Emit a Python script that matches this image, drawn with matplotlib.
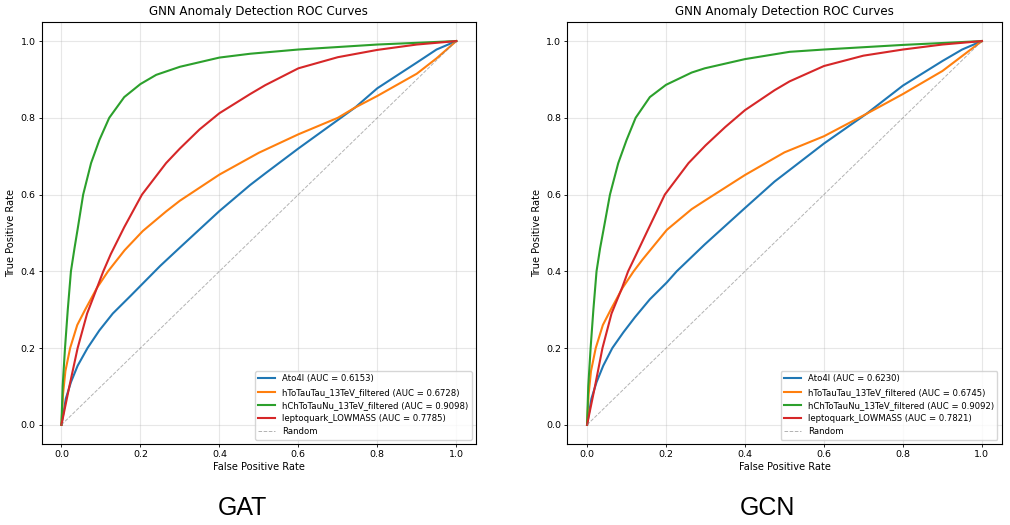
import matplotlib
matplotlib.use("Agg")
import matplotlib.pyplot as plt

# ---- data ----
labels_gat = ["Ato4l (AUC = 0.6153)",
              "hToTauTau_13TeV_filtered (AUC = 0.6728)",
              "hChToTauNu_13TeV_filtered (AUC = 0.9098)",
              "leptoquark_LOWMASS (AUC = 0.7785)"]
labels_gcn = ["Ato4l (AUC = 0.6230)",
              "hToTauTau_13TeV_filtered (AUC = 0.6745)",
              "hChToTauNu_13TeV_filtered (AUC = 0.9092)",
              "leptoquark_LOWMASS (AUC = 0.7821)"]

# GAT
gat_ato4l_fpr = [0, 0.011, 0.024, 0.041, 0.066, 0.096, 0.13, 0.176, 0.2, 0.25, 0.3, 0.4, 0.478, 0.516, 0.6, 0.744, 0.8, 0.9, 0.95, 1.0]
gat_ato4l_tpr = [0, 0.068, 0.111, 0.154, 0.2, 0.246, 0.29, 0.337, 0.362, 0.414, 0.462, 0.557, 0.625, 0.655, 0.72, 0.827, 0.877, 0.944, 0.978, 1.0]
gat_htt_fpr = [0, 0.004, 0.01, 0.022, 0.04, 0.06, 0.09, 0.118, 0.16, 0.206, 0.265, 0.3, 0.4, 0.5, 0.6, 0.7, 0.744, 0.8, 0.9, 0.95, 1.0]
gat_htt_tpr = [0, 0.08, 0.14, 0.2, 0.26, 0.30, 0.357, 0.4, 0.455, 0.505, 0.556, 0.584, 0.652, 0.709, 0.757, 0.80, 0.827, 0.857, 0.915, 0.955, 1.0]
gat_hch_fpr = [0, 0.003, 0.009, 0.016, 0.024, 0.033, 0.041, 0.055, 0.075, 0.096, 0.121, 0.159, 0.2, 0.24, 0.3, 0.4, 0.478, 0.6, 0.8, 1.0]
gat_hch_tpr = [0, 0.1, 0.2, 0.3, 0.4, 0.46, 0.51, 0.6, 0.682, 0.742, 0.8, 0.854, 0.888, 0.912, 0.933, 0.957, 0.967, 0.978, 0.991, 1.0]
gat_lq_fpr = [0, 0.01, 0.02, 0.041, 0.065, 0.09, 0.106, 0.125, 0.159, 0.204, 0.265, 0.3, 0.35, 0.4, 0.478, 0.516, 0.6, 0.7, 0.8, 0.9, 1.0]
gat_lq_tpr = [0, 0.05, 0.1, 0.2, 0.29, 0.357, 0.4, 0.445, 0.515, 0.6, 0.682, 0.72, 0.77, 0.812, 0.862, 0.885, 0.929, 0.958, 0.977, 0.991, 1.0]

# GCN
gcn_ato4l_fpr = [0, 0.011, 0.024, 0.041, 0.064, 0.092, 0.121, 0.159, 0.202, 0.227, 0.298, 0.4, 0.475, 0.513, 0.6, 0.707, 0.8, 0.9, 0.95, 1.0]
gcn_ato4l_tpr = [0, 0.068, 0.111, 0.154, 0.2, 0.241, 0.28, 0.327, 0.371, 0.4, 0.47, 0.565, 0.634, 0.664, 0.733, 0.81, 0.884, 0.948, 0.978, 1.0]
gcn_htt_fpr = [0, 0.004, 0.01, 0.022, 0.04, 0.06, 0.09, 0.118, 0.14, 0.202, 0.265, 0.298, 0.4, 0.5, 0.6, 0.707, 0.75, 0.8, 0.9, 1.0]
gcn_htt_tpr = [0, 0.08, 0.14, 0.2, 0.26, 0.30, 0.357, 0.4, 0.43, 0.508, 0.562, 0.584, 0.651, 0.71, 0.752, 0.81, 0.834, 0.862, 0.922, 1.0]
gcn_hch_fpr = [0, 0.003, 0.009, 0.016, 0.024, 0.033, 0.042, 0.058, 0.079, 0.1, 0.123, 0.159, 0.2, 0.265, 0.298, 0.4, 0.513, 0.6, 0.8, 1.0]
gcn_hch_tpr = [0, 0.1, 0.2, 0.3, 0.4, 0.46, 0.51, 0.6, 0.682, 0.742, 0.8, 0.854, 0.886, 0.918, 0.929, 0.953, 0.972, 0.978, 0.99, 1.0]
gcn_lq_fpr = [0, 0.01, 0.02, 0.039, 0.062, 0.089, 0.104, 0.125, 0.155, 0.197, 0.257, 0.3, 0.35, 0.4, 0.475, 0.513, 0.6, 0.7, 0.8, 0.9, 1.0]
gcn_lq_tpr = [0, 0.05, 0.1, 0.2, 0.29, 0.358, 0.4, 0.445, 0.51, 0.6, 0.682, 0.728, 0.776, 0.82, 0.872, 0.895, 0.935, 0.962, 0.978, 0.991, 1.0]

panel_names = ["GAT", "GCN"]

plt.rcParams['font.size'] = 7.1

fig = plt.figure(figsize=(10.1, 5.25), dpi=100)


def draw_panel(ax, curves, labels):
    for (fpr, tpr), lab in zip(curves, labels):
        ax.plot(fpr, tpr, lw=1.5, label=lab)
    ax.plot([0, 1], [0, 1], color='gray', ls='--', lw=0.7, alpha=0.6, label='Random')
    ax.set_xlabel('False Positive Rate', labelpad=2)
    ax.set_ylabel('True Positive Rate', labelpad=3)
    ax.set_title('GNN Anomaly Detection ROC Curves', fontsize=8.6, pad=5)
    ax.legend(loc='lower right', fontsize=6.1)
    ax.grid(True, alpha=0.3)
    ax.tick_params(length=2.5, width=0.6, pad=2, labelsize=6.8)


ax1 = fig.add_axes([0.0413, 0.1543, 0.430, 0.804])
draw_panel(ax1, [(gat_ato4l_fpr, gat_ato4l_tpr), (gat_htt_fpr, gat_htt_tpr),
                 (gat_hch_fpr, gat_hch_tpr), (gat_lq_fpr, gat_lq_tpr)], labels_gat)

ax2 = fig.add_axes([0.5617, 0.1543, 0.430, 0.804])
draw_panel(ax2, [(gcn_ato4l_fpr, gcn_ato4l_tpr), (gcn_htt_fpr, gcn_htt_tpr),
                 (gcn_hch_fpr, gcn_hch_tpr), (gcn_lq_fpr, gcn_lq_tpr)], labels_gcn)

# big captions under each panel
fig.text(242 / 1010, 1 - 508 / 525, panel_names[0], ha='center', va='center',
         fontsize=18, family='Liberation Sans')
fig.text(767 / 1010, 1 - 508 / 525, panel_names[1], ha='center', va='center',
         fontsize=18, family='Liberation Sans')

fig.savefig('out.png', dpi=100)
